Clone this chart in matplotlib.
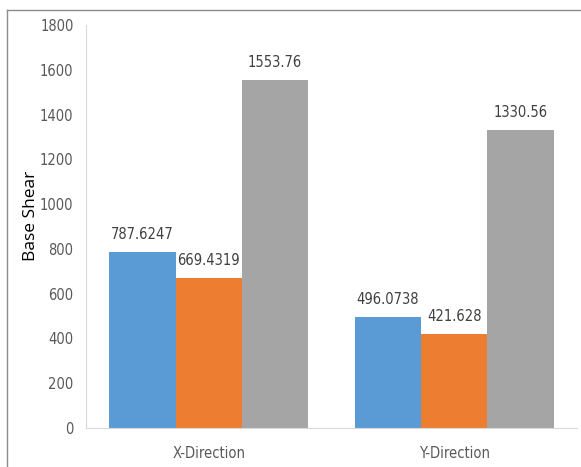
import numpy as np
import matplotlib
matplotlib.use('Agg')
import matplotlib.pyplot as plt
from matplotlib.lines import Line2D
from matplotlib import font_manager

categories = ['X-Direction', 'Y-Direction']
series1 = [787.6247, 496.0738]
series2 = [669.4319, 421.628]
series3 = [1553.76, 1330.56]
labels1 = ['787.6247', '496.0738']
labels2 = ['669.4319', '421.628']
labels3 = ['1553.76', '1330.56']
yticks = [0, 200, 400, 600, 800, 1000, 1200, 1400, 1600, 1800]

colors = ['#5B9BD5', '#ED7D31', '#A5A5A5']

# look for a narrow face among installed fonts
narrow_file = None
for f in font_manager.fontManager.ttflist:
    if f.stretch in ('condensed', 'semi-condensed', 'extra-condensed') and f.style == 'normal' and f.weight in (400, 'normal'):
        narrow_file = f.fname
        break
if narrow_file:
    nprop = font_manager.FontProperties(fname=narrow_file, size=10.5)
else:
    nprop = font_manager.FontProperties(family='DejaVu Sans', size=9.5)

fig = plt.figure(figsize=(5.81, 4.67), dpi=100)
ax = fig.add_axes([86/581, 1-428/467, (577-86)/581, (428-25)/467])

x = np.arange(len(categories))
w = 0.27
for i, (vals, labs) in enumerate(zip([series1, series2, series3], [labels1, labels2, labels3])):
    pos = x + (i - 1) * w
    ax.bar(pos, vals, width=w, color=colors[i], zorder=2)
    for p, v, l in zip(pos, vals, labs):
        ax.annotate(l, (p, v), xytext=(0, 7), textcoords='offset points',
                    ha='center', va='bottom', color='#404040', fontproperties=nprop)

ax.set_xlim(-0.5, 1.5)
ax.set_ylim(0, 1800)
ax.set_yticks(yticks)
ax.set_xticks(x)
ax.set_xticklabels(categories)
for lab in ax.get_xticklabels() + ax.get_yticklabels():
    lab.set_fontproperties(nprop)
    lab.set_color('#595959')
ax.tick_params(axis='y', length=0, pad=9)
ax.tick_params(axis='x', length=0, pad=13)
for s in ['top', 'right']:
    ax.spines[s].set_visible(False)
ax.spines['left'].set_color('#D9D9D9')
ax.spines['bottom'].set_color('#D9D9D9')

fig.text(31/581, 1-216/467, 'Base Shear', rotation=90, ha='center', va='center',
         fontsize=12.5, color='#000000', family=['Open Sans', 'DejaVu Sans'])

# chart frame (top and left edges visible)
fig.add_artist(Line2D([7/581, 1], [1-10/467, 1-10/467], color='#8C8C8C', lw=1, transform=fig.transFigure))
fig.add_artist(Line2D([7/581, 7/581], [0, 1-10/467], color='#8C8C8C', lw=1, transform=fig.transFigure))

fig.savefig('out.png', dpi=100)
